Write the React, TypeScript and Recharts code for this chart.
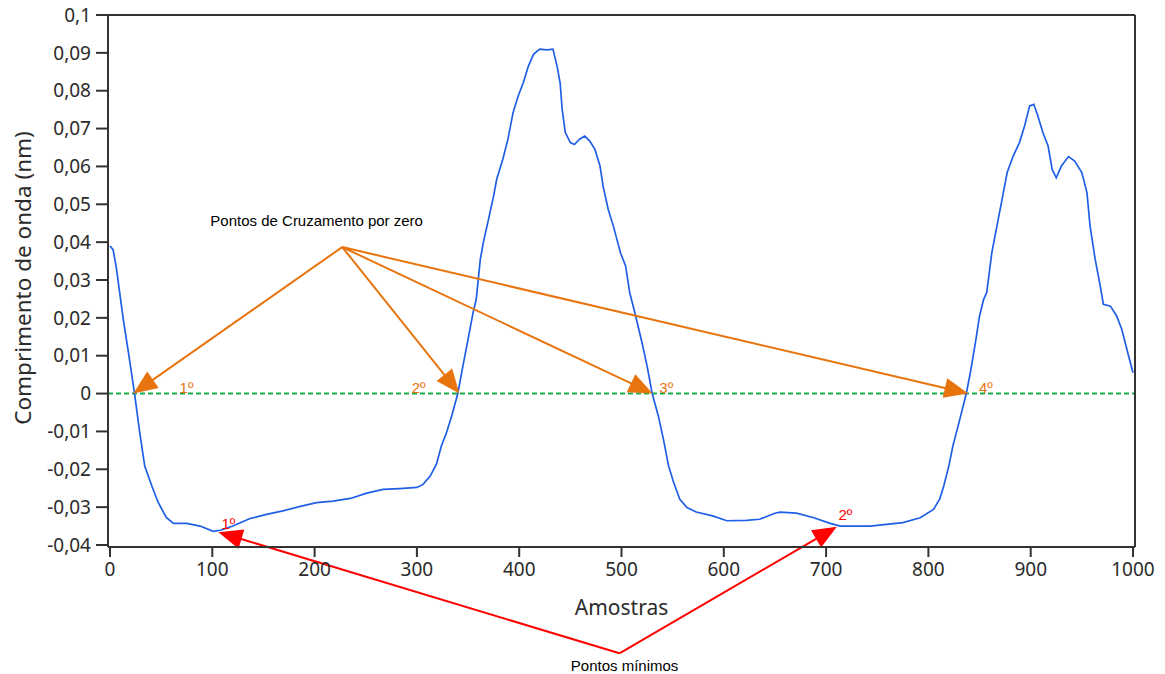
import React from 'react';
import {
  LineChart,
  Line,
  XAxis,
  YAxis,
  ReferenceLine,
  ReferenceDot,
} from 'recharts';

// amostras (eixo x) e comprimento de onda
const amostras = [
  0, 3, 6, 9, 13, 18, 24, 29, 34, 41, 47, 55, 62, 75, 88, 101, 108, 120, 137, 153,
  169, 186, 202, 218, 235, 251, 267, 283, 300, 306, 313, 319, 324, 329, 334, 340, 345, 350, 355, 358,
  362, 365, 370, 375, 378, 384, 389, 394, 399, 404, 409, 414, 420, 427, 433, 437, 440, 442, 445, 450,
  454, 459, 464, 469, 474, 479, 482, 487, 492, 499, 504, 508, 513, 520, 525, 530, 536, 541, 546, 551,
  557, 564, 573, 589, 603, 622, 635, 650, 655, 671, 688, 704, 714, 743, 775, 792, 805, 811, 815, 820,
  824, 829, 834, 837, 841, 846, 850, 854, 857, 862, 867, 872, 877, 883, 889, 894, 899, 903, 907, 912,
  917, 921, 925, 930, 937, 943, 950, 955, 958, 963, 968, 971, 978, 984, 989, 994, 1000,
];

const comprimento = [
  0.039, 0.038, 0.0336, 0.0276, 0.0196, 0.0109, 0.0, -0.0102, -0.0192, -0.0245, -0.0287, -0.0327, -0.0343, -0.0343, -0.035, -0.0364, -0.0361, -0.035, -0.033, -0.0319,
  -0.031, -0.0298, -0.0288, -0.0284, -0.0277, -0.0263, -0.0253, -0.0251, -0.0248, -0.024, -0.0218, -0.0187, -0.0138, -0.0103, -0.0059, 0.0, 0.0073, 0.0143, 0.0215, 0.0249,
  0.0355, 0.04, 0.046, 0.0522, 0.0566, 0.0619, 0.0672, 0.0742, 0.0786, 0.0821, 0.0865, 0.0896, 0.091, 0.0908, 0.091, 0.0865, 0.0821, 0.0751, 0.069, 0.0663,
  0.0658, 0.0672, 0.068, 0.0667, 0.0645, 0.0601, 0.0548, 0.0487, 0.0443, 0.0372, 0.0337, 0.0267, 0.0214, 0.0135, 0.0073, 0.0, -0.0059, -0.0121, -0.0191, -0.0235,
  -0.0279, -0.0301, -0.0313, -0.0323, -0.0336, -0.0335, -0.0332, -0.0316, -0.0313, -0.0316, -0.0328, -0.0343, -0.035, -0.035, -0.0341, -0.0328, -0.0306, -0.0279, -0.0244, -0.0191,
  -0.0138, -0.0086, -0.0033, 0.0, 0.0055, 0.0135, 0.0205, 0.0249, 0.0267, 0.0372, 0.0443, 0.0513, 0.0584, 0.0628, 0.0663, 0.0707, 0.076, 0.0764, 0.0733, 0.0689,
  0.0654, 0.0592, 0.057, 0.0601, 0.0626, 0.0614, 0.0584, 0.0531, 0.0443, 0.0355, 0.0284, 0.0236, 0.0231, 0.0205, 0.017, 0.0117, 0.0055,
];

const xTicks = [0, 100, 200, 300, 400, 500, 600, 700, 800, 900, 1000];
const yTicks = [-0.04, -0.03, -0.02, -0.01, 0, 0.01, 0.02, 0.03, 0.04, 0.05, 0.06, 0.07, 0.08, 0.09, 0.1];

// anotações (coordenadas de dados)
const cruzamentoOrigem = { x: 227, y: 0.0387 };
const cruzamentoX = [22.8, 341.5, 530.5, 839];
const cruzamentoRotuloX = [68, 295, 537, 849.5];
const ordinais = ['1º', '2º', '3º', '4º'];

const minimoOrigem = { x: 498, y: -0.0686 };
const minimoPontos = [
  { x: 106, y: -0.0366 },
  { x: 710.5, y: -0.0352 },
];
const minimoRotulos = [
  { x: 109, y: -0.0358 },
  { x: 712, y: -0.0334 },
];

const titulos = [
  { x: 202, y: 0.0443, text: 'Pontos de Cruzamento por zero' },
  { x: 503, y: -0.0732, text: 'Pontos mínimos' },
];

const data = amostras.map((a, i) => ({ amostra: a, valor: comprimento[i] }));

const ORANGE = '#e8740e';
const RED = '#ff0000';
const FONT = '"Noto Sans", "Open Sans", sans-serif';
const ARIAL = '"Liberation Sans", Arial, sans-serif';
const FRAME = '#333';

const fmt = (v: number) => String(Number(v.toFixed(2))).replace('.', ',');

const arrow = (color: string) => (props: any) => {
  const { x1, y1, x2, y2 } = props;
  if ([x1, y1, x2, y2].some((v) => v == null || isNaN(v))) return null;
  const dx = x2 - x1;
  const dy = y2 - y1;
  const len = Math.hypot(dx, dy) || 1;
  const ux = dx / len;
  const uy = dy / len;
  const hl = 24;
  const hw = 10;
  const bx = x2 - ux * hl;
  const by = y2 - uy * hl;
  const pts = [
    `${x2},${y2}`,
    `${bx - uy * hw},${by + ux * hw}`,
    `${bx + uy * hw},${by - ux * hw}`,
  ].join(' ');
  return (
    <g>
      <line x1={x1} y1={y1} x2={bx + ux * 2} y2={by + uy * 2} stroke={color} strokeWidth={2} />
      <polygon points={pts} fill={color} />
    </g>
  );
};

const textShape = (text: string, color: string, size: number, anchor: string) => (props: any) => {
  const { cx, cy } = props;
  if (cx == null || cy == null) return null;
  return (
    <text x={cx} y={cy} fill={color} fontSize={size} fontFamily={ARIAL} textAnchor={anchor}>
      {text}
    </text>
  );
};

export default function App() {
  return (
    <div style={{ position: 'absolute', left: 0, top: 0, background: '#fff' }}>
      <LineChart width={1165} height={674} data={data} margin={{ top: 14, right: 29, bottom: 67, left: 8 }}>
        <XAxis
          dataKey="amostra"
          type="number"
          domain={[0, 1000]}
          ticks={xTicks}
          interval={0}
          padding={{ left: 2, right: 2 }}
          height={60}
          tickSize={10}
          tickMargin={6}
          axisLine={{ stroke: FRAME, strokeWidth: 2 }}
          tickLine={{ stroke: FRAME, strokeWidth: 2 }}
          tick={{ fill: '#2b2b2b', fontSize: 19, fontFamily: FONT }}
          label={(p: any) => {
            const vb = p.viewBox || { x: 108, y: 547, width: 1027 };
            return (
              <text x={vb.x + vb.width / 2} y={vb.y + 68} textAnchor="middle" fontSize={21} fontFamily={FONT} fill="#2b2b2b">
                Amostras
              </text>
            );
          }}
        />
        <XAxis
          xAxisId="top"
          dataKey="amostra"
          orientation="top"
          type="number"
          domain={[0, 1000]}
          height={1}
          tick={false}
          tickLine={false}
          axisLine={{ stroke: FRAME, strokeWidth: 2 }}
        />
        <YAxis
          type="number"
          domain={[-0.04, 0.1]}
          ticks={yTicks}
          interval={0}
          allowDataOverflow
          width={100}
          padding={{ top: 0, bottom: 2 }}
          tickSize={12}
          tickMargin={5}
          tickFormatter={fmt}
          axisLine={{ stroke: FRAME, strokeWidth: 2 }}
          tickLine={{ stroke: FRAME, strokeWidth: 2 }}
          tick={{ fill: '#2b2b2b', fontSize: 19, fontFamily: FONT }}
          label={(p: any) => {
            const vb = p.viewBox || { x: 8, y: 15, height: 532 };
            const cx = vb.x + 14;
            const cy = vb.y + vb.height / 2 - 3;
            return (
              <text x={cx} y={cy} transform={`rotate(-90 ${cx} ${cy})`} textAnchor="middle" dominantBaseline="central" fontSize={22.5} fontFamily={FONT} fill="#2b2b2b">
                Comprimento de onda (nm)
              </text>
            );
          }}
        />
        <YAxis
          yAxisId="right"
          orientation="right"
          type="number"
          domain={[-0.04, 0.1]}
          width={1}
          tick={false}
          tickLine={false}
          axisLine={{ stroke: FRAME, strokeWidth: 2 }}
        />

        <ReferenceLine y={0} stroke="#1aab48" strokeWidth={2} strokeDasharray="5 3" />
        <Line type="linear" dataKey="valor" stroke="#1f5fe6" strokeWidth={1.7} dot={false} isAnimationActive={false} />
        <Line xAxisId="top" yAxisId="right" dataKey="valor" stroke="none" dot={false} activeDot={false} legendType="none" isAnimationActive={false} />

        {cruzamentoX.map((x, i) => (
          <ReferenceLine
            key={`c${i}`}
            segment={[cruzamentoOrigem, { x, y: 0 }]}
            ifOverflow="visible"
            shape={arrow(ORANGE)}
          />
        ))}
        {cruzamentoRotuloX.map((x, i) => (
          <ReferenceDot key={`cl${i}`} x={x} y={0.0002} ifOverflow="visible" shape={textShape(ordinais[i], ORANGE, 15, 'start')} />
        ))}
        {minimoPontos.map((p, i) => (
          <ReferenceLine key={`m${i}`} segment={[minimoOrigem, p]} ifOverflow="visible" shape={arrow(RED)} />
        ))}
        {minimoRotulos.map((p, i) => (
          <ReferenceDot key={`ml${i}`} x={p.x} y={p.y} ifOverflow="visible" shape={textShape(ordinais[i], RED, 15, 'start')} />
        ))}
        {titulos.map((t, i) => (
          <ReferenceDot key={`t${i}`} x={t.x} y={t.y} ifOverflow="visible" shape={textShape(t.text, '#000', 15, 'middle')} />
        ))}
      </LineChart>
    </div>
  );
}
